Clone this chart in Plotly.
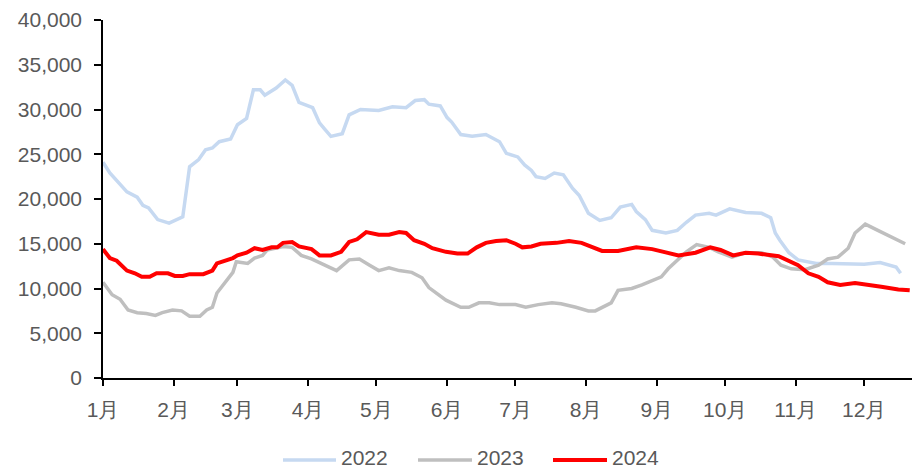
import plotly.graph_objects as go

# day-of-year positions (0 = Jan 1) and values
d2022 = [0, 3, 10.5, 15, 17.5, 20, 24, 29, 35, 36, 38, 42, 45, 48, 51, 56, 59, 63, 66, 69, 71, 76, 80, 83, 86, 92, 95, 97, 100, 105, 108, 113, 121, 127, 133, 137, 141, 143, 148, 151, 153, 157, 162, 168, 174, 177, 182, 185, 188, 190, 194, 198, 202, 206, 209, 213, 218, 223, 227, 232, 234, 238, 241, 247, 252, 256, 260, 266, 269, 275, 282, 289, 293, 295, 297, 301, 305, 313, 320, 334, 341, 348, 350]
v2022 = [24100, 22900, 20800, 20200, 19300, 19000, 17700, 17300, 18000, 19900, 23600, 24400, 25500, 25700, 26400, 26700, 28300, 29000, 32200, 32200, 31600, 32400, 33300, 32700, 30800, 30200, 28500, 27900, 27000, 27300, 29400, 30000, 29900, 30300, 30200, 31000, 31100, 30600, 30400, 29100, 28600, 27200, 27000, 27200, 26400, 25100, 24700, 23800, 23200, 22500, 22300, 22900, 22700, 21200, 20400, 18400, 17600, 17900, 19100, 19400, 18600, 17700, 16500, 16200, 16500, 17400, 18200, 18400, 18200, 18900, 18500, 18400, 17900, 16200, 15400, 14000, 13200, 12800, 12800, 12700, 12900, 12400, 11700]

d2023 = [0, 4, 7.5, 11, 15, 19, 23, 26, 30.5, 34.5, 38, 42.5, 45.5, 48, 50, 54, 57, 58.5, 63.5, 66.5, 70, 72, 76, 79, 83, 87, 91.5, 96, 102.5, 108, 112.5, 117, 121, 125.5, 130, 135.5, 140, 143, 147.5, 150.5, 157, 160.5, 165, 169.5, 174, 181, 185.5, 191, 197, 201, 207.5, 213, 216, 223, 226, 232, 236.5, 241, 245, 248, 252.5, 256, 260.5, 266, 270, 276, 282, 289, 294, 297.5, 302, 308, 314, 318, 322.5, 327, 330, 334.5, 340, 346, 352]
v2023 = [10700, 9300, 8800, 7600, 7300, 7200, 7000, 7300, 7600, 7500, 6900, 6900, 7600, 7900, 9500, 10900, 11800, 13000, 12800, 13400, 13700, 14300, 14500, 14700, 14600, 13700, 13300, 12800, 12000, 13200, 13300, 12600, 12000, 12300, 12000, 11800, 11200, 10100, 9300, 8700, 7900, 7900, 8400, 8400, 8200, 8200, 7900, 8200, 8400, 8300, 7900, 7500, 7500, 8400, 9800, 10000, 10400, 10900, 11300, 12200, 13200, 14100, 14900, 14600, 14100, 13500, 14000, 14000, 13500, 12600, 12200, 12100, 12600, 13300, 13500, 14500, 16200, 17200, 16500, 15800, 15000]

d2024 = [0, 3, 6, 10.5, 14, 17, 20.5, 23.5, 28.5, 31.5, 35, 38, 44, 48, 50, 54, 57, 59, 63, 66.5, 70, 74, 76.5, 79, 83, 86, 91.5, 95, 100, 104.5, 108, 111.5, 115.5, 121, 125.5, 130, 133, 136.5, 141, 144.5, 150.5, 155.5, 160, 164, 168, 172.5, 177, 181, 184, 188, 192, 199, 204.5, 210, 214.5, 219, 226, 234, 241, 247, 252.5, 260, 266.5, 271, 276.5, 282, 287.5, 296.5, 301, 305, 309.5, 314, 318, 323.5, 330, 334.5, 341.5, 349, 354]
v2024 = [14400, 13400, 13100, 12000, 11700, 11300, 11300, 11700, 11700, 11400, 11400, 11600, 11600, 12000, 12800, 13100, 13400, 13700, 14000, 14500, 14300, 14600, 14600, 15100, 15200, 14700, 14400, 13700, 13700, 14100, 15200, 15500, 16300, 16000, 16000, 16300, 16200, 15400, 15000, 14500, 14100, 13900, 13900, 14600, 15100, 15300, 15400, 15000, 14600, 14700, 15000, 15100, 15300, 15100, 14600, 14200, 14200, 14600, 14400, 14000, 13700, 14000, 14600, 14300, 13700, 14000, 13900, 13600, 13100, 12600, 11700, 11300, 10700, 10400, 10600, 10400, 10200, 9900, 9800]

series_names = ["2022", "2023", "2024"]
month_starts = [0, 31, 59, 90, 120, 151, 181, 212, 243, 273, 304, 334]
month_labels = ["1月", "2月", "3月", "4月", "5月", "6月", "7月", "8月", "9月", "10月", "11月", "12月"]
y_ticks = [0, 5000, 10000, 15000, 20000, 25000, 30000, 35000, 40000]

colors = ["#C6D9F1", "#BFBFBF", "#FF0000"]
widths = [3.5, 3.5, 4]

W, H = 913, 471
ML, MR, MT, MB = 103, 1, 20, 93
PW, PH = W - ML - MR, H - MT - MB

fig = go.Figure()
for name, xs, ys, c, w in zip(series_names, [d2022, d2023, d2024], [v2022, v2023, v2024], colors, widths):
    fig.add_trace(go.Scatter(x=xs, y=ys, mode="lines", name=name,
                             line=dict(color=c, width=w), showlegend=False))

# manual legend (long line samples like the original)
legend_line_px = [(283, 336), (418, 472), (553, 607)]
legend_line_y_px = 460
legend_text_y_px = 457
def px2paper_x(px):
    return (px - ML) / PW
def px2paper_y(py):
    return (H - MB - py) / PH

for name, (x0, x1), c, w in zip(series_names, legend_line_px, colors, widths):
    fig.add_shape(type="line", xref="paper", yref="paper",
                  x0=px2paper_x(x0), x1=px2paper_x(x1),
                  y0=px2paper_y(legend_line_y_px), y1=px2paper_y(legend_line_y_px),
                  line=dict(color=c, width=w))
    fig.add_annotation(xref="paper", yref="paper", x=px2paper_x(x1 + 4),
                       y=px2paper_y(legend_text_y_px), text=name, showarrow=False,
                       xanchor="left", yanchor="middle", borderpad=0,
                       font=dict(size=21, color="#595959"))

font_family = "Liberation Sans, Arial, sans-serif"
fig.update_layout(
    width=W, height=H,
    margin=dict(l=ML, r=MR, t=MT, b=MB, autoexpand=False),
    plot_bgcolor="white", paper_bgcolor="white",
    font=dict(family=font_family, size=22, color="#595959"),
    showlegend=False,
)
fig.update_xaxes(range=[0, 355], tickvals=month_starts, ticktext=month_labels,
                 showgrid=False, zeroline=False, showline=True, linecolor="black",
                 linewidth=1.5, ticks="outside", ticklen=6, tickcolor="black",
                 tickwidth=1.5, automargin=False, ticklabelstandoff=6,
                 tickfont=dict(size=21))
fig.update_yaxes(range=[0, 40000], tickvals=y_ticks, tickformat=",",
                 showgrid=False, zeroline=False, showline=True, linecolor="black",
                 linewidth=1.5, ticks="outside", ticklen=7, tickcolor="black",
                 tickwidth=1.5, automargin=False, ticklabelstandoff=8,
                 tickfont=dict(size=21))

fig.write_html("out.html", config={"displayModeBar": False},
               post_script="document.body.style.margin='0';document.body.style.padding='0';")
